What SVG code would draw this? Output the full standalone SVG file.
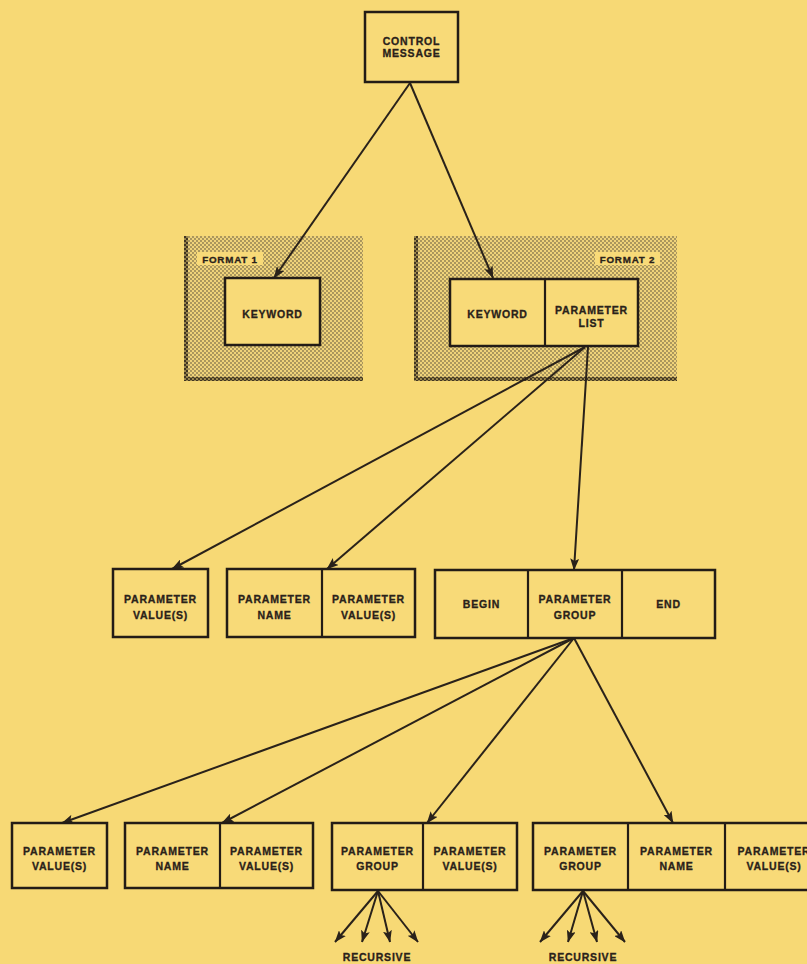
<svg xmlns="http://www.w3.org/2000/svg" width="807" height="964" viewBox="0 0 807 964">
<defs>
<style>
.bx{fill:#F8DA78;stroke:#231c16;stroke-width:2.5}
.dv{stroke:#231c16;stroke-width:2.2;fill:none}
.t{font-family:"Liberation Sans",Arial,sans-serif;font-weight:bold;font-size:10.5px;letter-spacing:0.8px;fill:#2a221a;stroke:#2a221a;stroke-width:0.3;text-anchor:middle}
.ln{stroke:#2a221a;stroke-width:2;fill:none;marker-end:url(#ah)}
.lab{fill:#F8DA78}
</style>
<pattern id="dots" width="4" height="4" patternUnits="userSpaceOnUse">
<rect width="4" height="4" fill="#EFD37A"/>
<circle cx="1" cy="1" r="0.9" fill="#8a7a4e"/>
<circle cx="3" cy="3" r="0.9" fill="#8a7a4e"/>
</pattern>
<pattern id="dark" width="4" height="4" patternUnits="userSpaceOnUse">
<rect width="4" height="4" fill="#a08c50"/>
<circle cx="1" cy="1" r="1.2" fill="#3e3320"/>
<circle cx="3" cy="3" r="1.2" fill="#3e3320"/>
</pattern>
<marker id="ah" viewBox="0 0 12 9" refX="11.5" refY="4.5" markerWidth="12" markerHeight="9" markerUnits="userSpaceOnUse" orient="auto">
<path d="M0,0 L12,4.5 L0,9 L2.5,4.5 Z" fill="#2a221a"/>
</marker>
</defs>
<rect width="807" height="964" fill="#F7D975"/>

<g id="format1">
<rect x="184" y="236" width="179" height="145" fill="url(#dots)"/>
<rect x="184" y="236" width="4" height="145" fill="url(#dark)"/>
<rect x="184" y="377" width="179" height="4" fill="url(#dark)"/>
<rect class="lab" x="197" y="252" width="66" height="13"/>
<text class="t" x="230" y="262.5" style="font-size:9.8px">FORMAT 1</text>
</g>

<g id="format2">
<rect x="414" y="236" width="263" height="145" fill="url(#dots)"/>
<rect x="414" y="236" width="4" height="145" fill="url(#dark)"/>
<rect x="414" y="377" width="263" height="4" fill="url(#dark)"/>
<rect class="lab" x="595" y="252" width="65" height="13"/>
<text class="t" x="627.5" y="262.5" style="font-size:9.8px">FORMAT 2</text>
</g>

<g id="connectors">
<path class="ln" d="M410,83 L274,278"/>
<path class="ln" d="M410,83 L493,278"/>
<path class="ln" d="M585,347 L172,569"/>
<path class="ln" d="M585,347 L327,569"/>
<path class="ln" d="M588,347 L574,570"/>
<path class="ln" d="M574,638 L62,823"/>
<path class="ln" d="M574,638 L222,823"/>
<path class="ln" d="M574,638 L427,823"/>
<path class="ln" d="M574,638 L673,823"/>
<path class="ln" d="M378,891 L335,942"/>
<path class="ln" d="M378,891 L362,942"/>
<path class="ln" d="M378,891 L390,942"/>
<path class="ln" d="M378,891 L418,942"/>
<path class="ln" d="M583,891 L540,942"/>
<path class="ln" d="M583,891 L568,942"/>
<path class="ln" d="M583,891 L597,942"/>
<path class="ln" d="M583,891 L625,942"/>
</g>

<g id="control-message">
<rect class="bx" x="365" y="12" width="93" height="70"/>
<text class="t" x="411.5" y="45">CONTROL</text>
<text class="t" x="411.5" y="57">MESSAGE</text>
</g>

<g id="keyword1">
<rect class="bx" x="225" y="278" width="95" height="67"/>
<text class="t" x="272.5" y="318">KEYWORD</text>
</g>

<g id="keyword2-parameter-list">
<rect class="bx" x="450" y="279" width="188" height="67"/>
<line class="dv" x1="545" y1="279" x2="545" y2="346"/>
<text class="t" x="497.5" y="318">KEYWORD</text>
<text class="t" x="591.5" y="314">PARAMETER</text>
<text class="t" x="591.5" y="327">LIST</text>
</g>

<g id="mid-value">
<rect class="bx" x="113" y="569" width="95" height="68"/>
<text class="t" x="160.5" y="603">PARAMETER</text>
<text class="t" x="160.5" y="619">VALUE(S)</text>
</g>

<g id="mid-name-value">
<rect class="bx" x="227" y="569" width="188" height="68"/>
<line class="dv" x1="322" y1="569" x2="322" y2="637"/>
<text class="t" x="274.5" y="603">PARAMETER</text>
<text class="t" x="274.5" y="619">NAME</text>
<text class="t" x="368.5" y="603">PARAMETER</text>
<text class="t" x="368.5" y="619">VALUE(S)</text>
</g>

<g id="mid-begin-group-end">
<rect class="bx" x="435" y="570" width="280" height="68"/>
<line class="dv" x1="528" y1="570" x2="528" y2="638"/>
<line class="dv" x1="622" y1="570" x2="622" y2="638"/>
<text class="t" x="481.5" y="608">BEGIN</text>
<text class="t" x="575" y="603">PARAMETER</text>
<text class="t" x="575" y="619">GROUP</text>
<text class="t" x="668.5" y="608">END</text>
</g>

<g id="bot-value">
<rect class="bx" x="12" y="823" width="95" height="65"/>
<text class="t" x="59.5" y="855">PARAMETER</text>
<text class="t" x="59.5" y="870">VALUE(S)</text>
</g>

<g id="bot-name-value">
<rect class="bx" x="125" y="823" width="188" height="65"/>
<line class="dv" x1="220" y1="823" x2="220" y2="888"/>
<text class="t" x="172.5" y="855">PARAMETER</text>
<text class="t" x="172.5" y="870">NAME</text>
<text class="t" x="266.5" y="855">PARAMETER</text>
<text class="t" x="266.5" y="870">VALUE(S)</text>
</g>

<g id="bot-group-value">
<rect class="bx" x="332" y="823" width="185" height="67"/>
<line class="dv" x1="423" y1="823" x2="423" y2="890"/>
<text class="t" x="377.5" y="855">PARAMETER</text>
<text class="t" x="377.5" y="870">GROUP</text>
<text class="t" x="470" y="855">PARAMETER</text>
<text class="t" x="470" y="870">VALUE(S)</text>
<text class="t" x="377" y="961">RECURSIVE</text>
</g>

<g id="bot-group-name-value">
<rect class="bx" x="533" y="823" width="290" height="67"/>
<line class="dv" x1="628" y1="823" x2="628" y2="890"/>
<line class="dv" x1="725" y1="823" x2="725" y2="890"/>
<text class="t" x="580.5" y="855">PARAMETER</text>
<text class="t" x="580.5" y="870">GROUP</text>
<text class="t" x="676.5" y="855">PARAMETER</text>
<text class="t" x="676.5" y="870">NAME</text>
<text class="t" x="774" y="855">PARAMETER</text>
<text class="t" x="774" y="870">VALUE(S)</text>
<text class="t" x="583" y="961">RECURSIVE</text>
</g>
</svg>
